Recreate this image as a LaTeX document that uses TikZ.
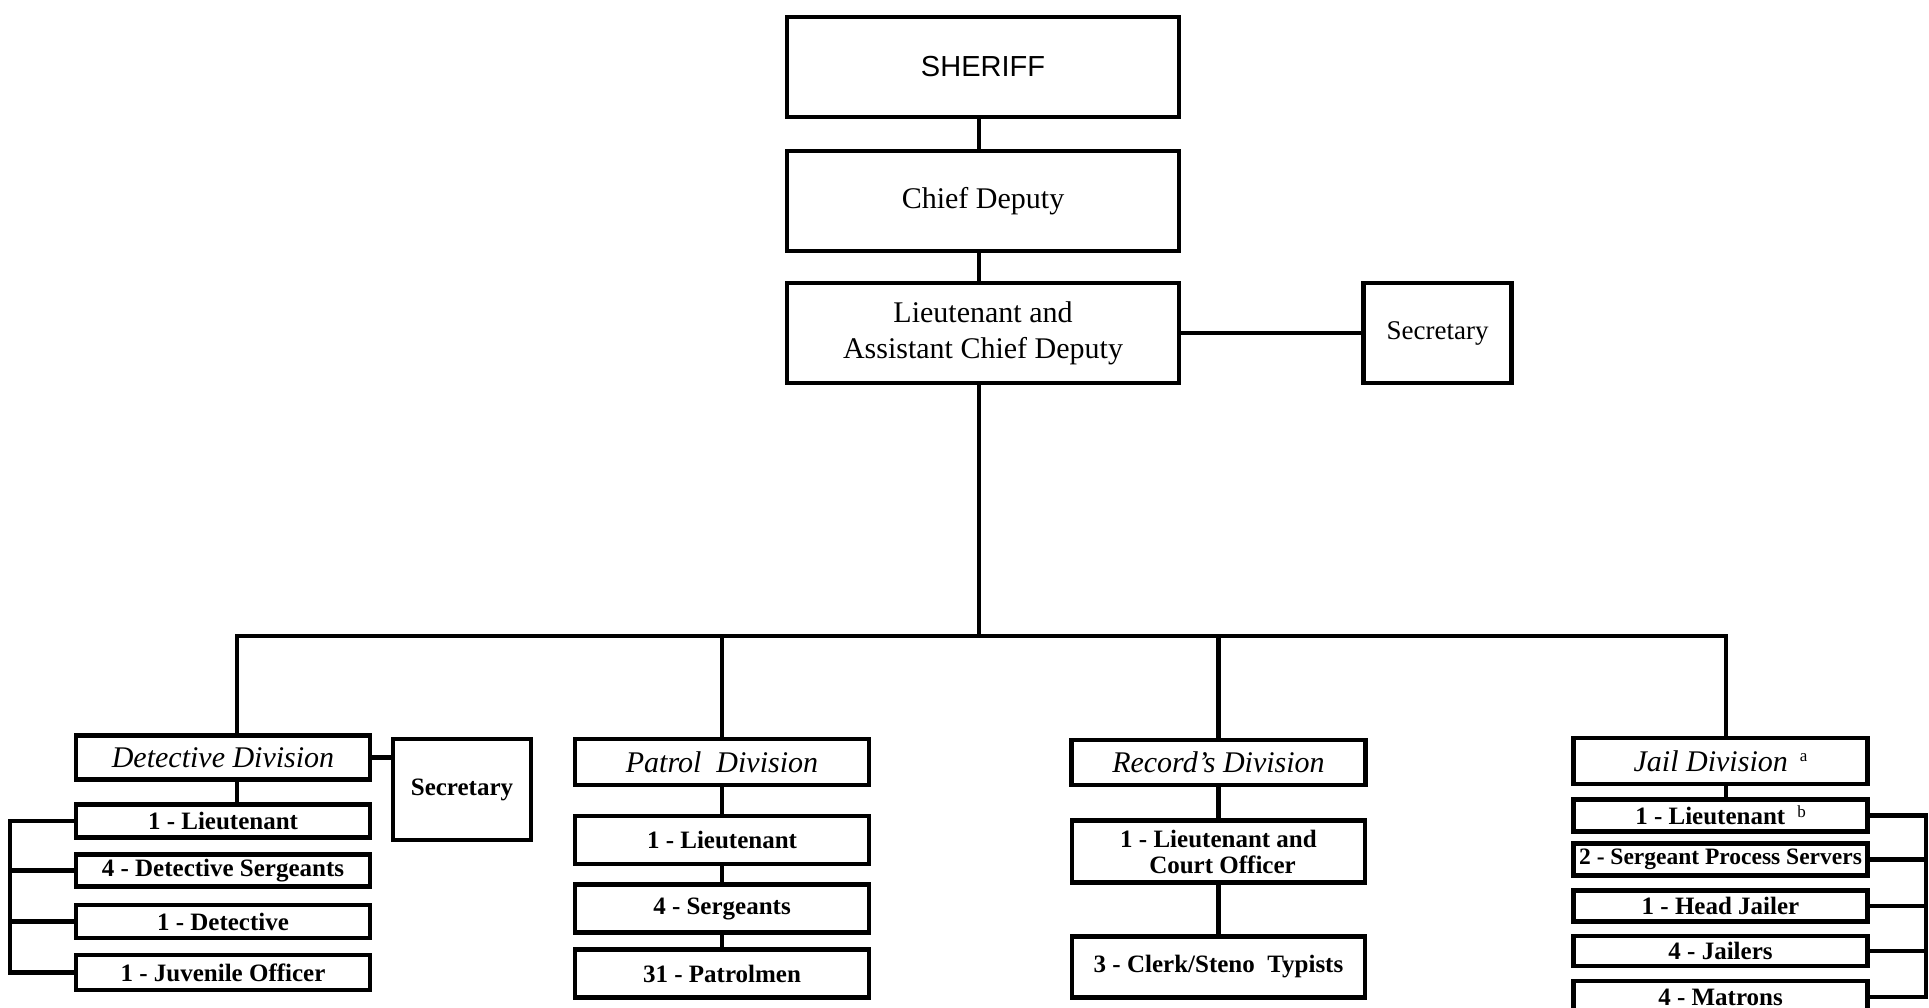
\documentclass[tikz,border=0pt]{standalone}
\usepackage{fontspec}
\setmainfont{Liberation Serif}
\newfontfamily\sherifffont{Liberation Sans}
\tikzset{
  box/.style={draw=black, line width=4.5pt, inner sep=0pt, align=center, text=black},
  topbox/.style={box, minimum width=392pt, minimum height=100pt, font=\fontsize{30}{36}\selectfont},
  divbox/.style={box, minimum width=294pt, minimum height=44pt, font=\fontsize{30}{36}\selectfont\itshape},
  subbox/.style={box, minimum width=294pt, font=\fontsize{25}{27}\selectfont\bfseries},
  wire/.style={draw=black, line width=4.5pt}
}
\begin{document}
\begin{tikzpicture}[x=1pt,y=-1pt]
\clip (0,0) rectangle (1929,1007);
\fill[white] (0,0) rectangle (1929,1007);
% top chain
\node[topbox, font=\sherifffont\fontsize{29}{34}\selectfont] (sheriff) at (983,67) {SHERIFF};
\node[topbox] (chief) at (983,201) {Chief Deputy};
\node[topbox] (lt) at (983,333) {Lieutenant and\\Assistant Chief Deputy};
\node[box, minimum width=148pt, minimum height=100pt, font=\fontsize{27}{30}\selectfont] (sec) at (1437.5,333) {Secretary};
% bus
\coordinate (busL) at (237,636);
\coordinate (busR) at (1726,636);
% divisions
\node[divbox] (detdiv) at (223,757.5) {Detective Division};
\node[box, minimum width=138pt, minimum height=101pt, font=\fontsize{25}{27}\selectfont\bfseries] (detsec) at (462,789.5) {Secretary};
\node[divbox, minimum height=46pt] (patrol) at (722,762) {Patrol\ \ Division};
\node[divbox, minimum height=45pt] (records) at (1218.5,762.5) {Record’s Division};
\node[divbox, minimum height=46pt] (jail) at (1720.5,761) {Jail Division\hspace{12pt}\raisebox{10pt}{\upshape\fontsize{17}{17}\selectfont a}};
% detective items
\node[subbox, minimum height=33pt] (d1) at (223,821) {1 - Lieutenant};
\node[subbox, minimum height=32pt] (d2) at (223,870.5) {4 - Detective Sergeants};
\node[subbox, minimum height=33pt] (d3) at (223,921.5) {1 - Detective};
\node[subbox, minimum height=35pt] (d4) at (223,972.5) {1 - Juvenile Officer};
% patrol items
\node[subbox, minimum height=48pt] (p1) at (722,840) {1 - Lieutenant};
\node[subbox, minimum height=48pt] (p2) at (722,908.5) {4 - Sergeants};
\node[subbox, minimum height=48pt] (p3) at (722,973.5) {31 - Patrolmen};
% records items
\node[subbox, minimum width=293pt, minimum height=62pt, font=\fontsize{25}{26}\selectfont\bfseries] (r1) at (1218.5,851.5) {1 - Lieutenant and\\\hspace{8pt}Court\ Officer};
\node[subbox, minimum width=293pt, minimum height=61pt] (r2) at (1218.5,967) {3 - Clerk/Steno\ \ Typists};
% jail items
\node[subbox, minimum height=32pt] (j1) at (1720.5,815.5) {1 - Lieutenant\hspace{12pt}\raisebox{7pt}{\mdseries\fontsize{17}{17}\selectfont b}};
\node[subbox, minimum height=32pt, font=\fontsize{23.5}{25}\selectfont\bfseries] (j2) at (1720.5,859.5) {2 - Sergeant Process Servers};
\node[subbox, minimum height=31pt] (j3) at (1720.5,906) {1 - Head Jailer};
\node[subbox, minimum height=30pt] (j4) at (1720.5,951) {4 - Jailers};
\node[subbox, minimum height=32pt] (j5) at (1720.5,997) {4 - Matrons};
% bracket coordinates
\coordinate (lbr) at (10,0);
\coordinate (rbr) at (1926,0);
\coordinate (ltbase) at (979,0);
% connectors: top
\draw[wire] ([xshift=-4pt]sheriff.south) -- ([xshift=-4pt]chief.north);
\draw[wire] ([xshift=-4pt]chief.south) -- ([xshift=-4pt]lt.north);
\draw[wire] (lt.east) -- (sec.west);
\draw[wire] (ltbase |- lt.south) -- (ltbase |- busL);
\draw[wire, line cap=rect] (busL) -- (busR);
\draw[wire] (busL) -- (busL |- detdiv.north);
\draw[wire] (patrol.north |- busL) -- (patrol.north);
\draw[wire] (records.north |- busL) -- (records.north);
\draw[wire] (busR) -- (busR |- jail.north);
% detective
\draw[wire] (detdiv.east) -- (detsec.west |- detdiv.east);
\draw[wire] (busL |- detdiv.south) -- (busL |- d1.north);
\draw[wire] (d1.west) -- (lbr |- d1.west) -- (lbr |- d4.west) -- (d4.west);
\draw[wire] (d2.west) -- (lbr |- d2.west);
\draw[wire] (d3.west) -- (lbr |- d3.west);
% patrol
\draw[wire] (patrol.south) -- (p1.north);
\draw[wire] (p1.south) -- (p2.north);
\draw[wire] (p2.south) -- (p3.north);
% records
\draw[wire] (records.south) -- (r1.north);
\draw[wire] (r1.south) -- (r2.north);
% jail
\draw[wire] (busR |- jail.south) -- (busR |- j1.north);
\draw[wire] (j1.east) -- (rbr |- j1.east) -- (rbr |- j5.east) -- (j5.east);
\draw[wire] (j2.east) -- (rbr |- j2.east);
\draw[wire] (j3.east) -- (rbr |- j3.east);
\draw[wire] (j4.east) -- (rbr |- j4.east);
\end{tikzpicture}
\end{document}
